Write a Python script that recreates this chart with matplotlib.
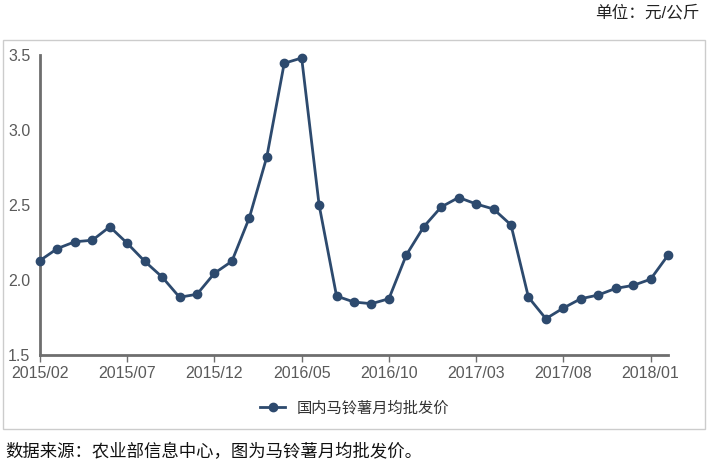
import matplotlib.pyplot as plt
from matplotlib.patches import Rectangle

plt.rcParams['font.family'] = ['Liberation Sans', 'Noto Sans CJK SC', 'DejaVu Sans']

months = ["2015/02", "2015/03", "2015/04", "2015/05", "2015/06", "2015/07",
          "2015/08", "2015/09", "2015/10", "2015/11", "2015/12", "2016/01",
          "2016/02", "2016/03", "2016/04", "2016/05", "2016/06", "2016/07",
          "2016/08", "2016/09", "2016/10", "2016/11", "2016/12", "2017/01",
          "2017/02", "2017/03", "2017/04", "2017/05", "2017/06", "2017/07",
          "2017/08", "2017/09", "2017/10", "2017/11", "2017/12", "2018/01",
          "2018/02"]
prices = [2.13, 2.21, 2.255, 2.265, 2.355, 2.245, 2.125, 2.02, 1.885, 1.905,
          2.045, 2.125, 2.415, 2.82, 3.445, 3.48, 2.50, 1.893, 1.853, 1.842,
          1.875, 2.167, 2.355, 2.487, 2.55, 2.507, 2.473, 2.367, 1.885, 1.742,
          1.813, 1.875, 1.90, 1.944, 1.964, 2.005, 2.165]
series_name = "国内马铃薯月均批发价"

line_color = "#2d4a6e"
axis_color = "#6e6e6e"

fig = plt.figure(figsize=(7.12, 4.70), dpi=100)
ax = fig.add_axes([40 / 712, 1 - 355 / 470, 628 / 712, 300 / 470])

x = list(range(len(months)))
ax.plot(x, prices, color=line_color, lw=2, marker="o", ms=6,
        label=series_name, clip_on=False, zorder=3)

ax.set_xlim(0, len(months) - 1)
ax.set_ylim(1.5, 3.5)
ax.set_yticks([1.5, 2.0, 2.5, 3.0, 3.5])
ax.set_yticklabels(["1.5", "2.0", "2.5", "3.0", "3.5"])
ax.set_xticks(x[::5])
ax.set_xticklabels(months[::5])

for s in ["top", "right"]:
    ax.spines[s].set_visible(False)
for s in ["left", "bottom"]:
    ax.spines[s].set_color(axis_color)
    ax.spines[s].set_linewidth(2)
ax.tick_params(axis="y", length=0, pad=7, labelsize=11.5, labelcolor="#5a5a5a")
ax.tick_params(axis="x", length=5, width=1, color=axis_color, pad=3,
               labelsize=11.5, labelcolor="#5a5a5a")

leg = fig.legend(loc="center", bbox_to_anchor=(355 / 712, 1 - 408 / 470),
                 frameon=False, handlelength=1.6, fontsize=11)
for t in leg.get_texts():
    t.set_color("#333333")

fig.patches.append(Rectangle((3 / 712, 1 - 429 / 470), 702 / 712, 389 / 470,
                             transform=fig.transFigure, fill=False,
                             edgecolor="#cccccc", lw=1))

fig.text(700 / 712, 1 - 13 / 470, "单位：元/公斤", ha="right", va="center",
         fontsize=12, color="#222222")
fig.text(5 / 712, 1 - 452 / 470, "数据来源：农业部信息中心，图为马铃薯月均批发价。",
         ha="left", va="center", fontsize=12.5, color="#111111")

fig.savefig("out.png", dpi=100)
